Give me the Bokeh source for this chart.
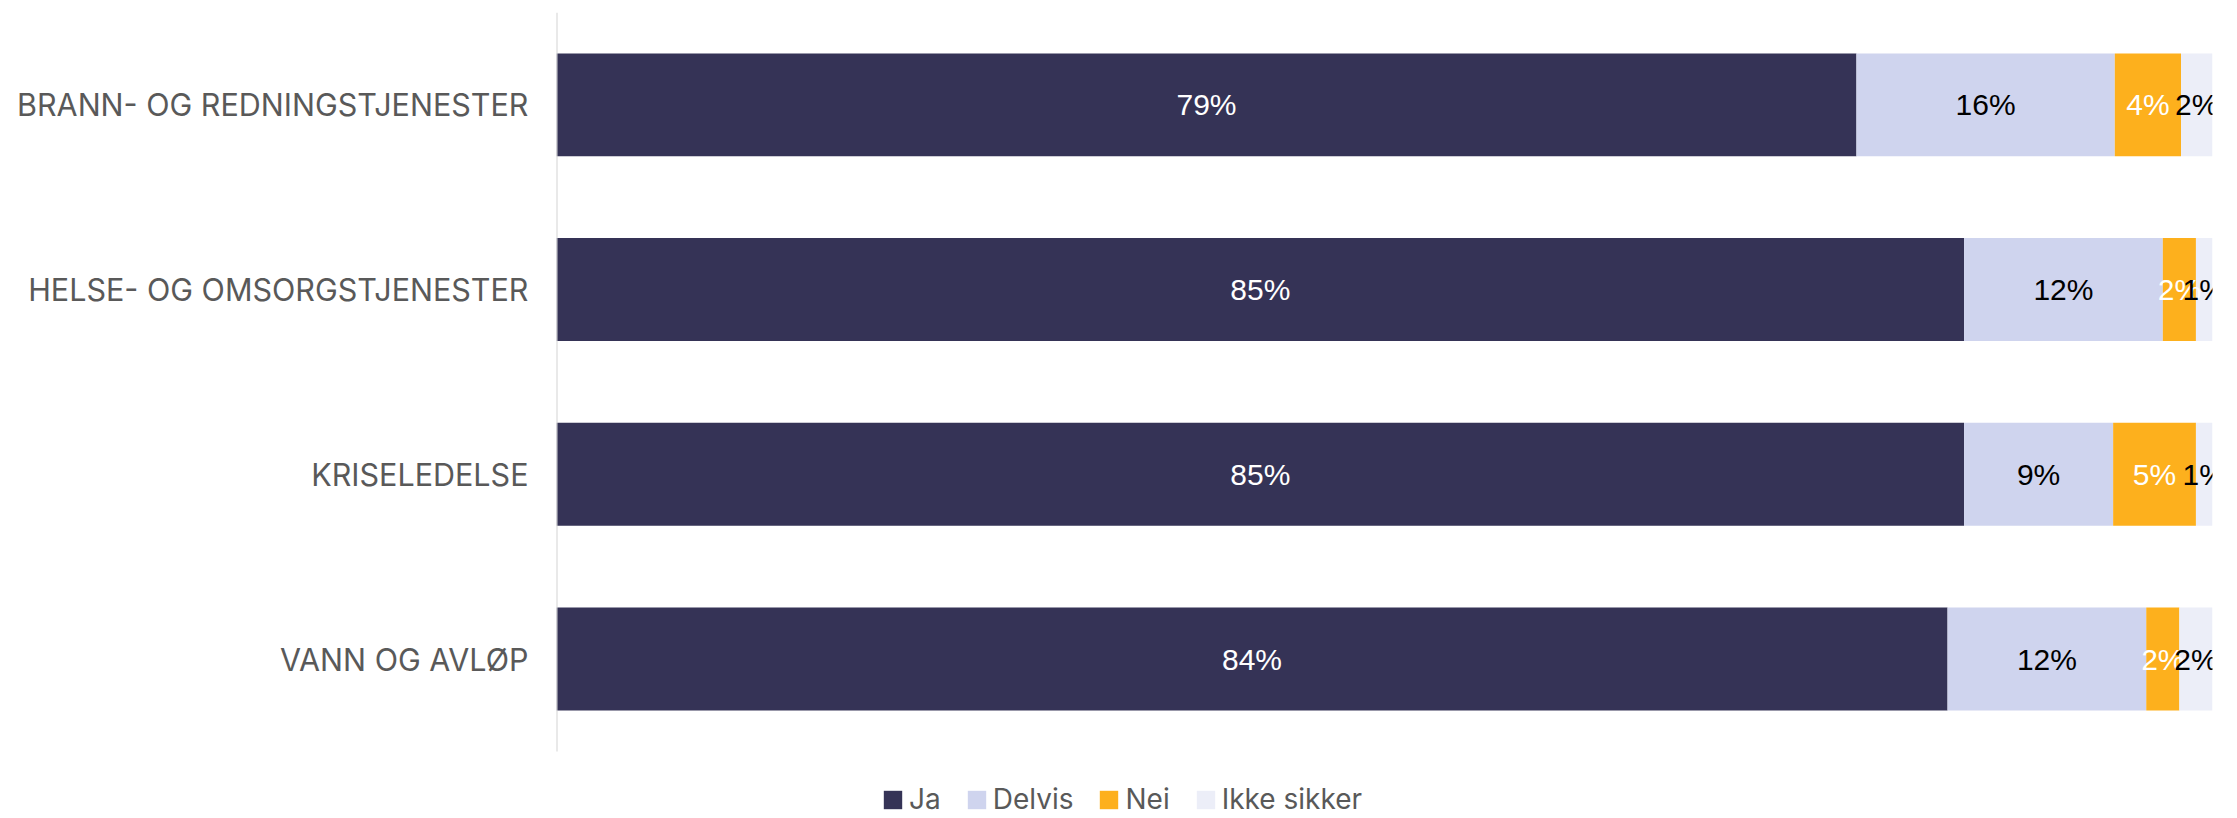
from bokeh.plotting import figure
from bokeh.models import ColumnDataSource, Range1d, Legend, FixedTicker
from bokeh.core.properties import value
from bokeh.embed import file_html
from bokeh.resources import INLINE

# ---- data (percent) ----
categories = ["BRANN- OG REDNINGSTJENESTER", "HELSE- OG OMSORGSTJENESTER",
              "KRISELEDELSE", "VANN OG AVLØP"]
series_names = ["Ja", "Delvis", "Nei", "Ikke sikker"]
ja = [78.5, 85.0, 85.0, 84.0]
delvis = [15.6, 12.0, 9.0, 12.0]
nei = [4.0, 2.0, 5.0, 2.0]
ikke_sikker = [1.9, 1.0, 1.0, 2.0]

colors = ["#353356", "#CFD4EE", "#FDB01D", "#ECEEF8"]
label_colors = ["#FFFFFF", "#000000", "#FFFFFF", "#000000"]

series = [ja, delvis, nei, ikke_sikker]
keys = ["ja", "delvis", "nei", "ikke"]

n = len(categories)
ypos = [n - 1 - i for i in range(n)]  # first category at top

src = ColumnDataSource(dict(y=ypos, **{k: v for k, v in zip(keys, series)}))

W, H = 2237, 818
p = figure(width=W, height=H, output_backend="svg", toolbar_location=None,
           y_range=Range1d(-0.8627, n - 0.5),
           x_range=Range1d(0, 100),
           min_border_left=556, min_border_right=25,
           min_border_top=12, min_border_bottom=0)

renderers = p.hbar_stack(keys, y="y", height=0.5575, color=colors,
                         line_color=None, source=src)

# vertical category axis line (spans the category band only)
p.segment(x0=[0], y0=[-0.5], x1=[0], y1=[n - 0.5], line_color="#D4D4D4", line_width=2)

# data labels
lx, ly, lt, lc = [], [], [], []
for i in range(n):
    left = 0.0
    for s, vals in enumerate(series):
        v = vals[i]
        lx.append(left + v / 2.0)
        ly.append(ypos[i])
        lt.append(f"{int(v + 0.5)}%")
        lc.append(label_colors[s])
        left += v
lsrc = ColumnDataSource(dict(x=lx, y=ly, text=lt, color=lc))
p.text(x="x", y="y", text="text", source=lsrc, text_color="color",
       text_align="center", text_baseline="middle",
       text_font=value("Liberation Sans"), text_font_size="30px")

# axes / styling
p.xaxis.visible = False
p.xgrid.grid_line_color = None
p.ygrid.grid_line_color = None
p.outline_line_color = None
p.yaxis.ticker = FixedTicker(ticks=ypos)
p.yaxis.major_label_overrides = {float(y): c for y, c in zip(ypos, categories)}
p.yaxis.axis_line_color = None
p.yaxis.major_tick_line_color = None
p.yaxis.minor_tick_line_color = None
p.yaxis.major_tick_out = 0
p.yaxis.major_tick_in = 0
p.yaxis.major_label_standoff = 28
p.yaxis.major_label_text_color = "#595959"
p.yaxis.major_label_text_font = "Inter"
p.yaxis.major_label_text_font_size = "30.5px"

legend = Legend(items=[(nm, [r]) for nm, r in zip(series_names, renderers)],
                orientation="horizontal", location=(325, 2),
                label_text_font="Inter", label_text_font_size="28px",
                label_text_color="#595959", glyph_width=23, glyph_height=23,
                label_standoff=5, spacing=24, padding=0, margin=0,
                border_line_color=None, background_fill_alpha=0)
p.add_layout(legend, "center")

open("out.html", "w").write(file_html(p, INLINE))
